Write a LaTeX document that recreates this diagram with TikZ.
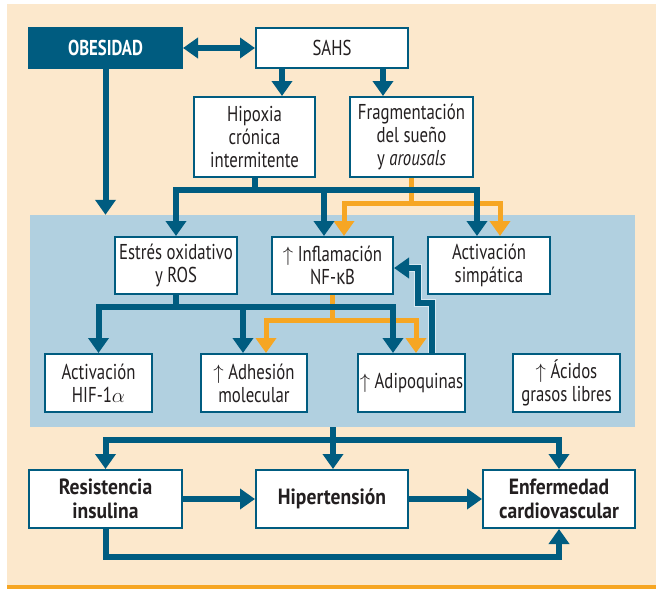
\documentclass[tikz,border=0pt]{standalone}
\usepackage{fontspec}
\setmainfont[FakeStretch=0.78]{PT Sans}
\newfontfamily\boldfam[FakeStretch=0.89]{PT Sans}
\newfontfamily\greekfont[FakeStretch=0.78]{Fira Sans}
\usetikzlibrary{arrows.meta}
\definecolor{dblue}{HTML}{005C80}
\definecolor{lblue}{HTML}{B1D0E0}
\definecolor{beige}{HTML}{FCE8CC}
\definecolor{orng}{HTML}{F6A623}
\definecolor{halo}{HTML}{D8E9F2}
\definecolor{txt}{HTML}{231F20}
\begin{document}
\begin{tikzpicture}[x=1pt,y=-1pt,
  box/.style={draw=dblue, line width=2pt, fill=white, align=center, inner sep=0pt,
    font=\fontsize{21.5}{23}\selectfont, text=txt},
  darkbox/.style={box, fill=dblue, text=white, font=\fontsize{21.5}{23}\selectfont\bfseries},
  boldbox/.style={box, font=\boldfam\fontsize{22}{24}\selectfont\bfseries},
  bl/.style={draw=dblue, line width=6pt},
  ol/.style={draw=orng, line width=5pt},
  barr/.style={bl, -{Triangle[length=15pt,width=20pt]}},
  barrs/.style={bl, {Triangle[length=15pt,width=20pt]}-{Triangle[length=15pt,width=20pt]}},
  oarr/.style={ol, -{Triangle[length=15pt,width=20pt]}},
]
\useasboundingbox (0,0) rectangle (656,589);
% background
\fill[beige] (7,4) rectangle (656,585);
\fill[orng] (7,585) rectangle (656,589);
\node[fill=lblue, inner sep=0pt, minimum width=605pt, minimum height=212pt] (panel) at (332.5,321) {};

% nodes
\node[darkbox, minimum width=153pt, minimum height=40pt] (obes) at (105.5,48) {OBESIDAD};
\node[box, minimum width=152pt, minimum height=40pt] (sahs) at (332,48) {SAHS};
\node[box, minimum width=121pt, minimum height=80pt] (hip) at (254.5,137) {Hipoxia\\crónica\\intermitente};
\node[box, minimum width=123pt, minimum height=80pt] (frag) at (411.5,137) {Fragmentación\\del sueño\\y \textit{arousals}};
\node[box, minimum width=122pt, minimum height=57pt] (est) at (176,265.5) {Estrés oxidativo\\y ROS};
\node[box, minimum width=121pt, minimum height=57pt] (infl) at (332.5,265.5) {$\uparrow$ Inflamación\\NF-{\greekfont κ}B};
\node[box, minimum width=122pt, minimum height=57pt] (simp) at (489,265.5) {Activación\\simpática};
\node[box, minimum width=107pt, minimum height=58pt] (hif) at (98.5,383) {Activación\\HIF-1$\alpha$};
\node[box, minimum width=106pt, minimum height=58pt] (adh) at (254,383) {$\uparrow$ Adhesión\\molecular};
\node[box, minimum width=107pt, minimum height=58pt] (adip) at (411.5,383) {$\uparrow$ Adipoquinas};
\node[box, minimum width=107pt, minimum height=58pt] (acid) at (566.5,383) {$\uparrow$ Ácidos\\grasos libres};
\node[boldbox, minimum width=153pt, minimum height=58pt] (res) at (105.5,499) {Resistencia\\insulina};
\node[boldbox, minimum width=152pt, minimum height=58pt] (hta) at (332,499) {Hipertensión};
\node[boldbox, minimum width=152pt, minimum height=58pt] (enf) at (559,499) {Enfermedad\\cardiovascular};

% helper coordinates
\coordinate (xA) at (282,0);
\coordinate (xB) at (383,0);
\coordinate (xC) at (324,0);
\coordinate (xD) at (477,0);
\coordinate (xE) at (344,0);
\coordinate (xF) at (500,0);
\coordinate (xG) at (243,0);
\coordinate (xH) at (393,0);
\coordinate (xI) at (266,0);
\coordinate (xJ) at (416,0);
\coordinate (xK) at (432,0);
\coordinate (xL) at (418,0);
\coordinate (xM) at (333,0);
\coordinate (xN) at (405,0);
\coordinate (yA) at (0,190);
\coordinate (yB) at (0,203.5);
\coordinate (yC) at (0,307);
\coordinate (yD) at (0,320);
\coordinate (yE) at (0,303);
\coordinate (yF) at (0,268);
\coordinate (yG) at (0,440);
\coordinate (yH) at (0,557);

% top
\draw[barrs] (obes.east) -- (sahs.west);
\draw[barr] (xA |- sahs.south) -- (xA |- hip.north);
\draw[barr] (xB |- sahs.south) -- (xB |- frag.north);
\draw[barr] (obes.south) -- (obes.south |- panel.north);

% orange from fragmentation
\draw[oarr] (frag.south) |- (xE |- yB) -- (xE |- infl.north);
\draw[oarr] (frag.south) |- (xF |- yB) -- (xF |- simp.north);
% blue from hypoxia
\draw[barr] (hip.south) |- (est.north |- yA) -- (est.north);
\draw[barr] (hip.south) |- (xC |- yA) -- (xC |- infl.north);
\draw[barr] (hip.south) |- (xD |- yA) -- (xD |- simp.north);

% orange from inflammation
\draw[oarr] (infl.south) |- (xI |- yD) -- (xI |- adh.north);
\draw[oarr] (infl.south) |- (xJ |- yD) -- (xJ |- adip.north);
% blue from oxidative stress
\draw[barr] (est.south) |- (hif.north |- yC) -- (hif.north);
\draw[barr] (est.south) |- (xG |- yC) -- (xG |- adh.north);
\draw[barr] (est.south) |- (xH |- yC) -- (xH |- adip.north);

% adipoquinas -> inflamacion
\draw[draw=halo, line width=8pt] (xK |- adip.north) -- (xK |- yE) -- (xL |- yE) -- (xL |- yF) -- (xN |- yF);
\draw[barr] (xK |- adip.north) -- (xK |- yE) -- (xL |- yE) -- (xL |- yF) -- (infl.east |- yF);

% bottom
\draw[barr] (xM |- panel.south) -- (xM |- hta.north);
\draw[barr] (xM |- yG) -| (res.north);
\draw[barr] (xM |- yG) -| (enf.north);
\draw[barr] (res.east) -- (hta.west);
\draw[barr] (hta.east) -- (enf.west);
\draw[barr] (res.south) |- (enf.south |- yH) -- (enf.south);
\end{tikzpicture}
\end{document}
